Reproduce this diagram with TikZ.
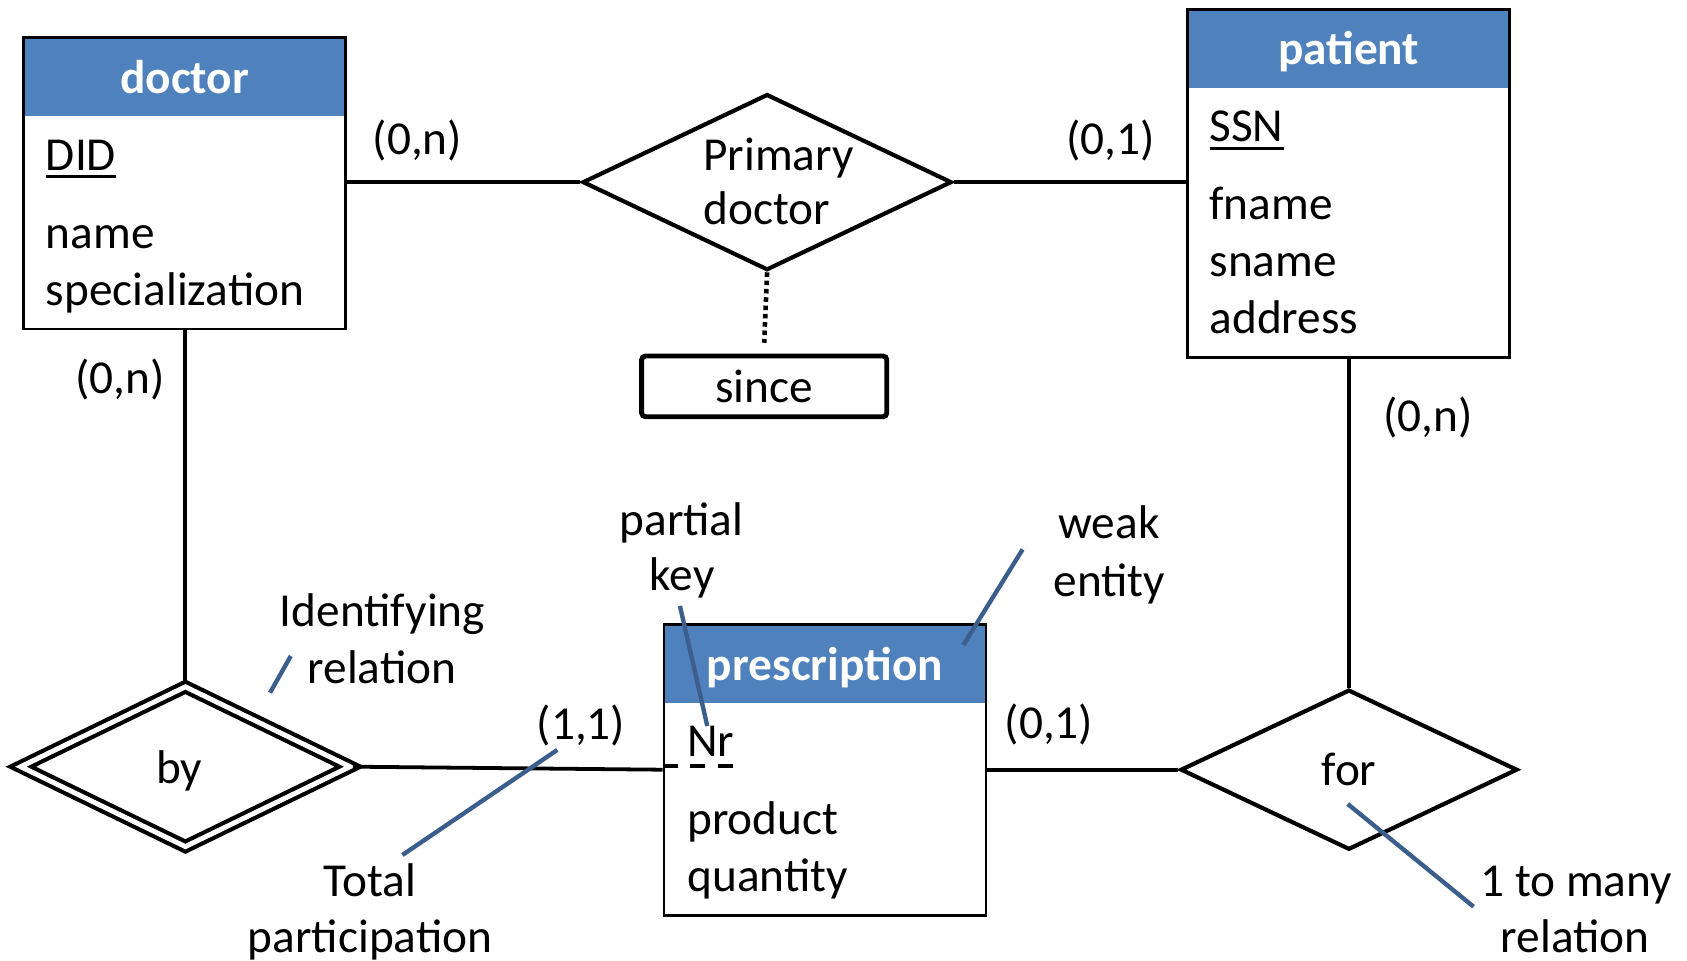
\documentclass[tikz,border=0pt]{standalone}
\usepackage{fontspec}
\setmainfont{Carlito}
\usetikzlibrary{shapes.geometric}
\definecolor{hdrblue}{HTML}{4F81BD}
\definecolor{noteblue}{HTML}{3B5E8C}
\newcommand{\keyul}[1]{\setbox0\hbox{#1}\rlap{\rule[-2.1pt]{\wd0}{0.8pt}}\box0}
\tikzset{
  ent/.style={draw,line width=0.75pt,minimum width=2.99cm,inner sep=0pt},
  hdr/.style={fill=hdrblue,text=white,font=\bfseries,text height=0.7em,text depth=0pt,minimum width=2.99cm,minimum height=0.73cm,inner sep=0pt},
  attr/.style={anchor=base west,inner sep=0pt},
  txt/.style={anchor=base,inner sep=0pt},
  rel/.style={draw,shape=diamond,line width=1.1pt,inner sep=0pt},
  conn/.style={line width=1pt},
  note/.style={draw=noteblue,line width=1.15pt},
}
\begin{document}
\fontsize{12.5}{15}\selectfont
\begin{tikzpicture}[x=0.01cm,y=-0.01cm]
\useasboundingbox (0,0) rectangle (1568,893);
% entities
\node[hdr] (doctorhd) at (171.6,71.4) {doctor};
\node[ent,minimum height=2.705cm] (doctor) at (171.6,170.5) {};
\node[attr] (did) at (42,158) {\keyul{DID}};
\node[attr] (dname) at (42,231) {name};
\node[attr] (dspec) at (42,283.5) {specialization};
\node[hdr] (patienthd) at (1253.5,45) {patient};
\node[ent,minimum height=3.234cm] (patient) at (1253.5,170.4) {};
\node[attr] (ssn) at (1123.5,131.7) {\keyul{SSN}};
\node[attr] (fname) at (1123.5,204) {fname};
\node[attr] (sname) at (1123.5,257.2) {sname};
\node[attr] (addr) at (1123.5,309.8) {address};
\node[hdr] (preshd) at (766.8,617) {prescription};
\node[ent,minimum height=2.701cm] (pres) at (766.8,715.4) {};
\node[attr] (nr) at (638.2,702.7) {Nr};
\node[attr] (prod) at (638.2,776) {product};
\node[attr] (qty) at (638.2,828.8) {quantity};
\coordinate (nrend) at (685,712);
\draw[line width=0.9pt,dash pattern=on 4pt off 3.3pt] (nrend -| pres.west) -- (nrend);
% relations
\node[rel,minimum width=3.43cm,minimum height=1.636cm] (pd) at (713,169.3) {};
\node[attr] (pd1) at (653,158) {Primary};
\node[attr] (pd2) at (653,209) {doctor};
\node[draw,line width=1.3pt,rounded corners=1pt,minimum width=2.277cm,minimum height=0.564cm,inner sep=0pt] (since) at (710.3,359.1) {since};
\node[rel,double,double distance=1.3pt,line width=1.1pt,minimum width=3.075cm,minimum height=1.5cm] (by) at (172.3,712.6) {};
\node[txt] (bytxt) at (166.6,728) {by};
\node[rel,minimum width=3.13cm,minimum height=1.487cm] (for) at (1253.8,715.4) {for};
% connectors
\draw[conn] (doctor.east |- pd.west) -- (pd.west);
\draw[conn] (pd.east) -- (pd.east -| patient.west);
\draw[line width=1.2pt,densely dotted] (pd.south) -- ([yshift=0.1cm]since.north);
\draw[conn] (by.north |- doctor.south) -- (by.north);
\draw[conn] (by.east) -- (pres.west);
\draw[conn] (pres.east) -- (for.west);
\draw[conn] (for.north |- patient.south) -- (for.north);
% cardinalities
\node[txt] (c1) at (388,143.5) {(0,n)};
\node[txt] (c2) at (1032.5,143.5) {(0,1)};
\node[txt] (c3) at (111.5,365.6) {(0,n)};
\node[txt] (c4) at (1327,401) {(0,n)};
\node[txt] (c5) at (540,687) {(1,1)};
\node[txt] (c6) at (975,686) {(0,1)};
% notes
\node[txt] (idrel1) at (355.5,582.5) {Identifying};
\node[txt] (idrel2) at (355,635) {relation};
\node[txt] (pkey1) at (633.5,497.3) {partial};
\node[txt] (pkey2) at (634,548.4) {key};
\node[txt] (weak1) at (1030.7,500.3) {weak};
\node[txt] (weak2) at (1031,554.6) {entity};
\node[txt] (tot1) at (343.8,833.4) {Total};
\node[txt] (tot2) at (344,885) {participation};
\node[txt] (many1) at (1465,833.4) {1 to many};
\node[txt] (many2) at (1464,885) {relation};
\coordinate (idrelA) at (270.3,609.7);
\coordinate (idrelB) at (251,643.8);
\coordinate (totA) at (518,697);
\coordinate (totB) at (374,794.7);
\coordinate (pkeyA) at (632,563.2);
\coordinate (pkeyB) at (657.4,674.8);
\coordinate (weakA) at (950.5,510.6);
\coordinate (weakB) at (895.4,599.5);
\coordinate (manyA) at (1252.7,747.3);
\coordinate (manyB) at (1369.6,842.7);
\draw[note] (idrelA) -- (idrelB);
\draw[note] (totA) -- (totB);
\draw[note] (pkeyA) -- (pkeyB);
\draw[note] (weakA) -- (weakB);
\draw[note] (manyA) -- (manyB);
\end{tikzpicture}
\end{document}
